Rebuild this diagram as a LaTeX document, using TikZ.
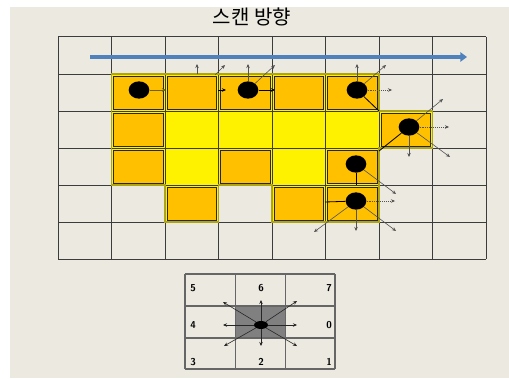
\documentclass[tikz,border=0pt]{standalone}
\usepackage{fontspec}
\newfontfamily\kofont{Noto Sans CJK KR}
\usetikzlibrary{shapes.geometric,arrows.meta}
\definecolor{bgbeige}{RGB}{236,233,224}
\definecolor{cellorange}{RGB}{255,192,0}
\definecolor{scanblue}{RGB}{79,129,189}
\definecolor{rimolive}{RGB}{175,165,20}
\definecolor{gridgray}{RGB}{60,60,60}

\begin{document}
\begin{tikzpicture}[x=0.75pt,y=-0.75pt,
  every node/.style={font=\scriptsize},
  dot/.style={ellipse,fill=black,inner sep=0pt,minimum width=15.5pt,minimum height=13pt},
  smalldot/.style={ellipse,fill=black,inner sep=0pt,minimum width=10.5pt,minimum height=6pt},
  ray/.style={-{Stealth[length=3pt,width=2.6pt]},gray!65!black,line width=0.45pt},
  dray/.style={ray,densely dotted},
  link/.style={black,line width=0.6pt},
  cell/.style={fill=cellorange,draw=black!85,line width=0.7pt},
  digit/.style={font=\sffamily\bfseries\fontsize{7.5}{8}\selectfont}]
  \useasboundingbox (0,0) rectangle (509,378);
  \fill[bgbeige] (10,7) rectangle (509,378);
  % title
  \node[font=\kofont\fontsize{15}{17}\selectfont] (title) at (252,17) {스캔 방향};
  % region and grid
  \fill[yellow] (111.5,74)--(379,74)--(379,111)--(432.5,111)--(432.5,148)--(379,148)
    --(379,222)--(272,222)--(272,185)--(218.5,185)--(218.5,222)--(165,222)
    --(165,185)--(111.5,185)--cycle;
  \foreach \c in {0,...,8}
    \draw[gridgray,line width=0.75pt] ({58+53.5*\c},37)--({58+53.5*\c},259);
  \foreach \r in {0,...,6}
    \draw[gridgray,line width=0.75pt] (58,{37+37*\r})--(486,{37+37*\r});
  \foreach \c/\r in {1/1,2/1,3/1,4/1,5/1,1/2,6/2,1/3,3/3,5/3,2/4,4/4,5/4}
    \draw[cell] ({58+53.5*\c+2},{39+37*\r}) rectangle ({58+53.5*(\c+1)-2},{35+37*(\r+1)});
  \draw[rimolive,line width=1.1pt] (111.5,74)--(379,74)--(379,111)--(432.5,111)--(432.5,148)--(379,148)
    --(379,222)--(272,222)--(272,185)--(218.5,185)--(218.5,222)--(165,222)
    --(165,185)--(111.5,185)--cycle;
  % scan direction
  \coordinate (scanL) at (90,57);
  \coordinate (scanR) at (467,57);
  \draw[scanblue,line width=3pt,-{Triangle[length=5pt,width=7pt]}] (scanL)--(scanR);
  % boundary points
  \node[dot] (d1) at (139,90) {};
  \node[dot] (d2) at (248,90) {};
  \node[dot] (d3) at (357,90) {};
  \node[dot] (d4) at (409,127) {};
  \node[dot] (d5) at (356,164) {};
  \node[dot] (d6) at (356,201) {};
  % stray rays of the second cell
  \coordinate (s1a) at (197,74); \coordinate (s1b) at (197,64);
  \coordinate (s2a) at (215,75); \coordinate (s2b) at (225,65);
  \coordinate (s3a) at (218,90); \coordinate (s3b) at (226,90);
  \draw[ray] (s1a)--(s1b);
  \draw[ray] (s2a)--(s2b);
  \draw[ray,black] (s3a)--(s3b);
  % rays of d1, d2
  \coordinate (d1r) at (166,90);
  \draw[ray,rimolive!60!black,line width=0.6pt] (d1)--(d1r);
  \coordinate (d2u) at (248,64);
  \coordinate (d2ur) at (275,65);
  \coordinate (d2r) at (275,90);
  \draw[ray] (d2)--(d2u);
  \draw[ray] (d2)--(d2ur);
  \draw[ray,black,line width=0.6pt] (d2)--(d2r);
  % rays of d3
  \coordinate (d3u) at (357,64);
  \coordinate (d3ur) at (386,65);
  \coordinate (d3r) at (392,90);
  \coordinate (d3dr) at (379,111);
  \draw[ray] (d3)--(d3u);
  \draw[ray] (d3)--(d3ur);
  \draw[dray] (d3)--(d3r);
  \draw[link] (d3)--(d3dr);
  % rays of d4
  \coordinate (d4ur) at (443,99);
  \coordinate (d4r) at (449,127);
  \coordinate (d4d) at (409,157);
  \coordinate (d4dr) at (450,157);
  \coordinate (d4dl) at (379,151);
  \draw[ray] (d4)--(d4ur);
  \draw[dray] (d4)--(d4r);
  \draw[ray] (d4)--(d4d);
  \draw[ray] (d4)--(d4dr);
  \draw[link] (d4)--(d4dl);
  % rays of d5
  \coordinate (d5d) at (356,185);
  \coordinate (d5dr) at (396,194);
  \draw[link] (d5)--(d5d);
  \draw[ray] (d5)--(d5dr);
  % rays of d6
  \coordinate (d6l) at (325,202);
  \coordinate (d6r) at (395,201);
  \coordinate (d6d) at (356,231);
  \coordinate (d6dr) at (396,231);
  \coordinate (d6dl) at (314,232);
  \draw[link] (d6)--(d6l);
  \draw[dray] (d6)--(d6r);
  \draw[ray] (d6)--(d6d);
  \draw[ray] (d6)--(d6dr);
  \draw[ray] (d6)--(d6dl);
  % chain code neighbourhood
  \fill[gray] (235.5,306) rectangle (285.5,338);
  \foreach \x in {185,235.5,285.5,335}
    \draw[gray!80!black,line width=0.9pt] (\x,274)--(\x,369);
  \foreach \y in {274,306,338,369}
    \draw[gray!80!black,line width=0.9pt] (185,\y)--(335,\y);
  \node[smalldot] (c) at (261,325) {};
  \foreach \n/\px/\py in {0/297/325,1/297/346,2/261/346,3/224/346,4/223/325,5/223/302,6/261/300,7/297/301}
    \coordinate (k\n) at (\px,\py);
  \foreach \n in {0,...,7}
    \draw[ray,black!85] (c)--(k\n);
  \node[digit] (n5) at (193,288) {5};
  \node[digit] (n6) at (261,288) {6};
  \node[digit] (n7) at (329,288) {7};
  \node[digit] (n4) at (193,325) {4};
  \node[digit] (n0) at (329,325) {0};
  \node[digit] (n3) at (193,362) {3};
  \node[digit] (n2) at (261,362) {2};
  \node[digit] (n1) at (329,362) {1};
\end{tikzpicture}
\end{document}
